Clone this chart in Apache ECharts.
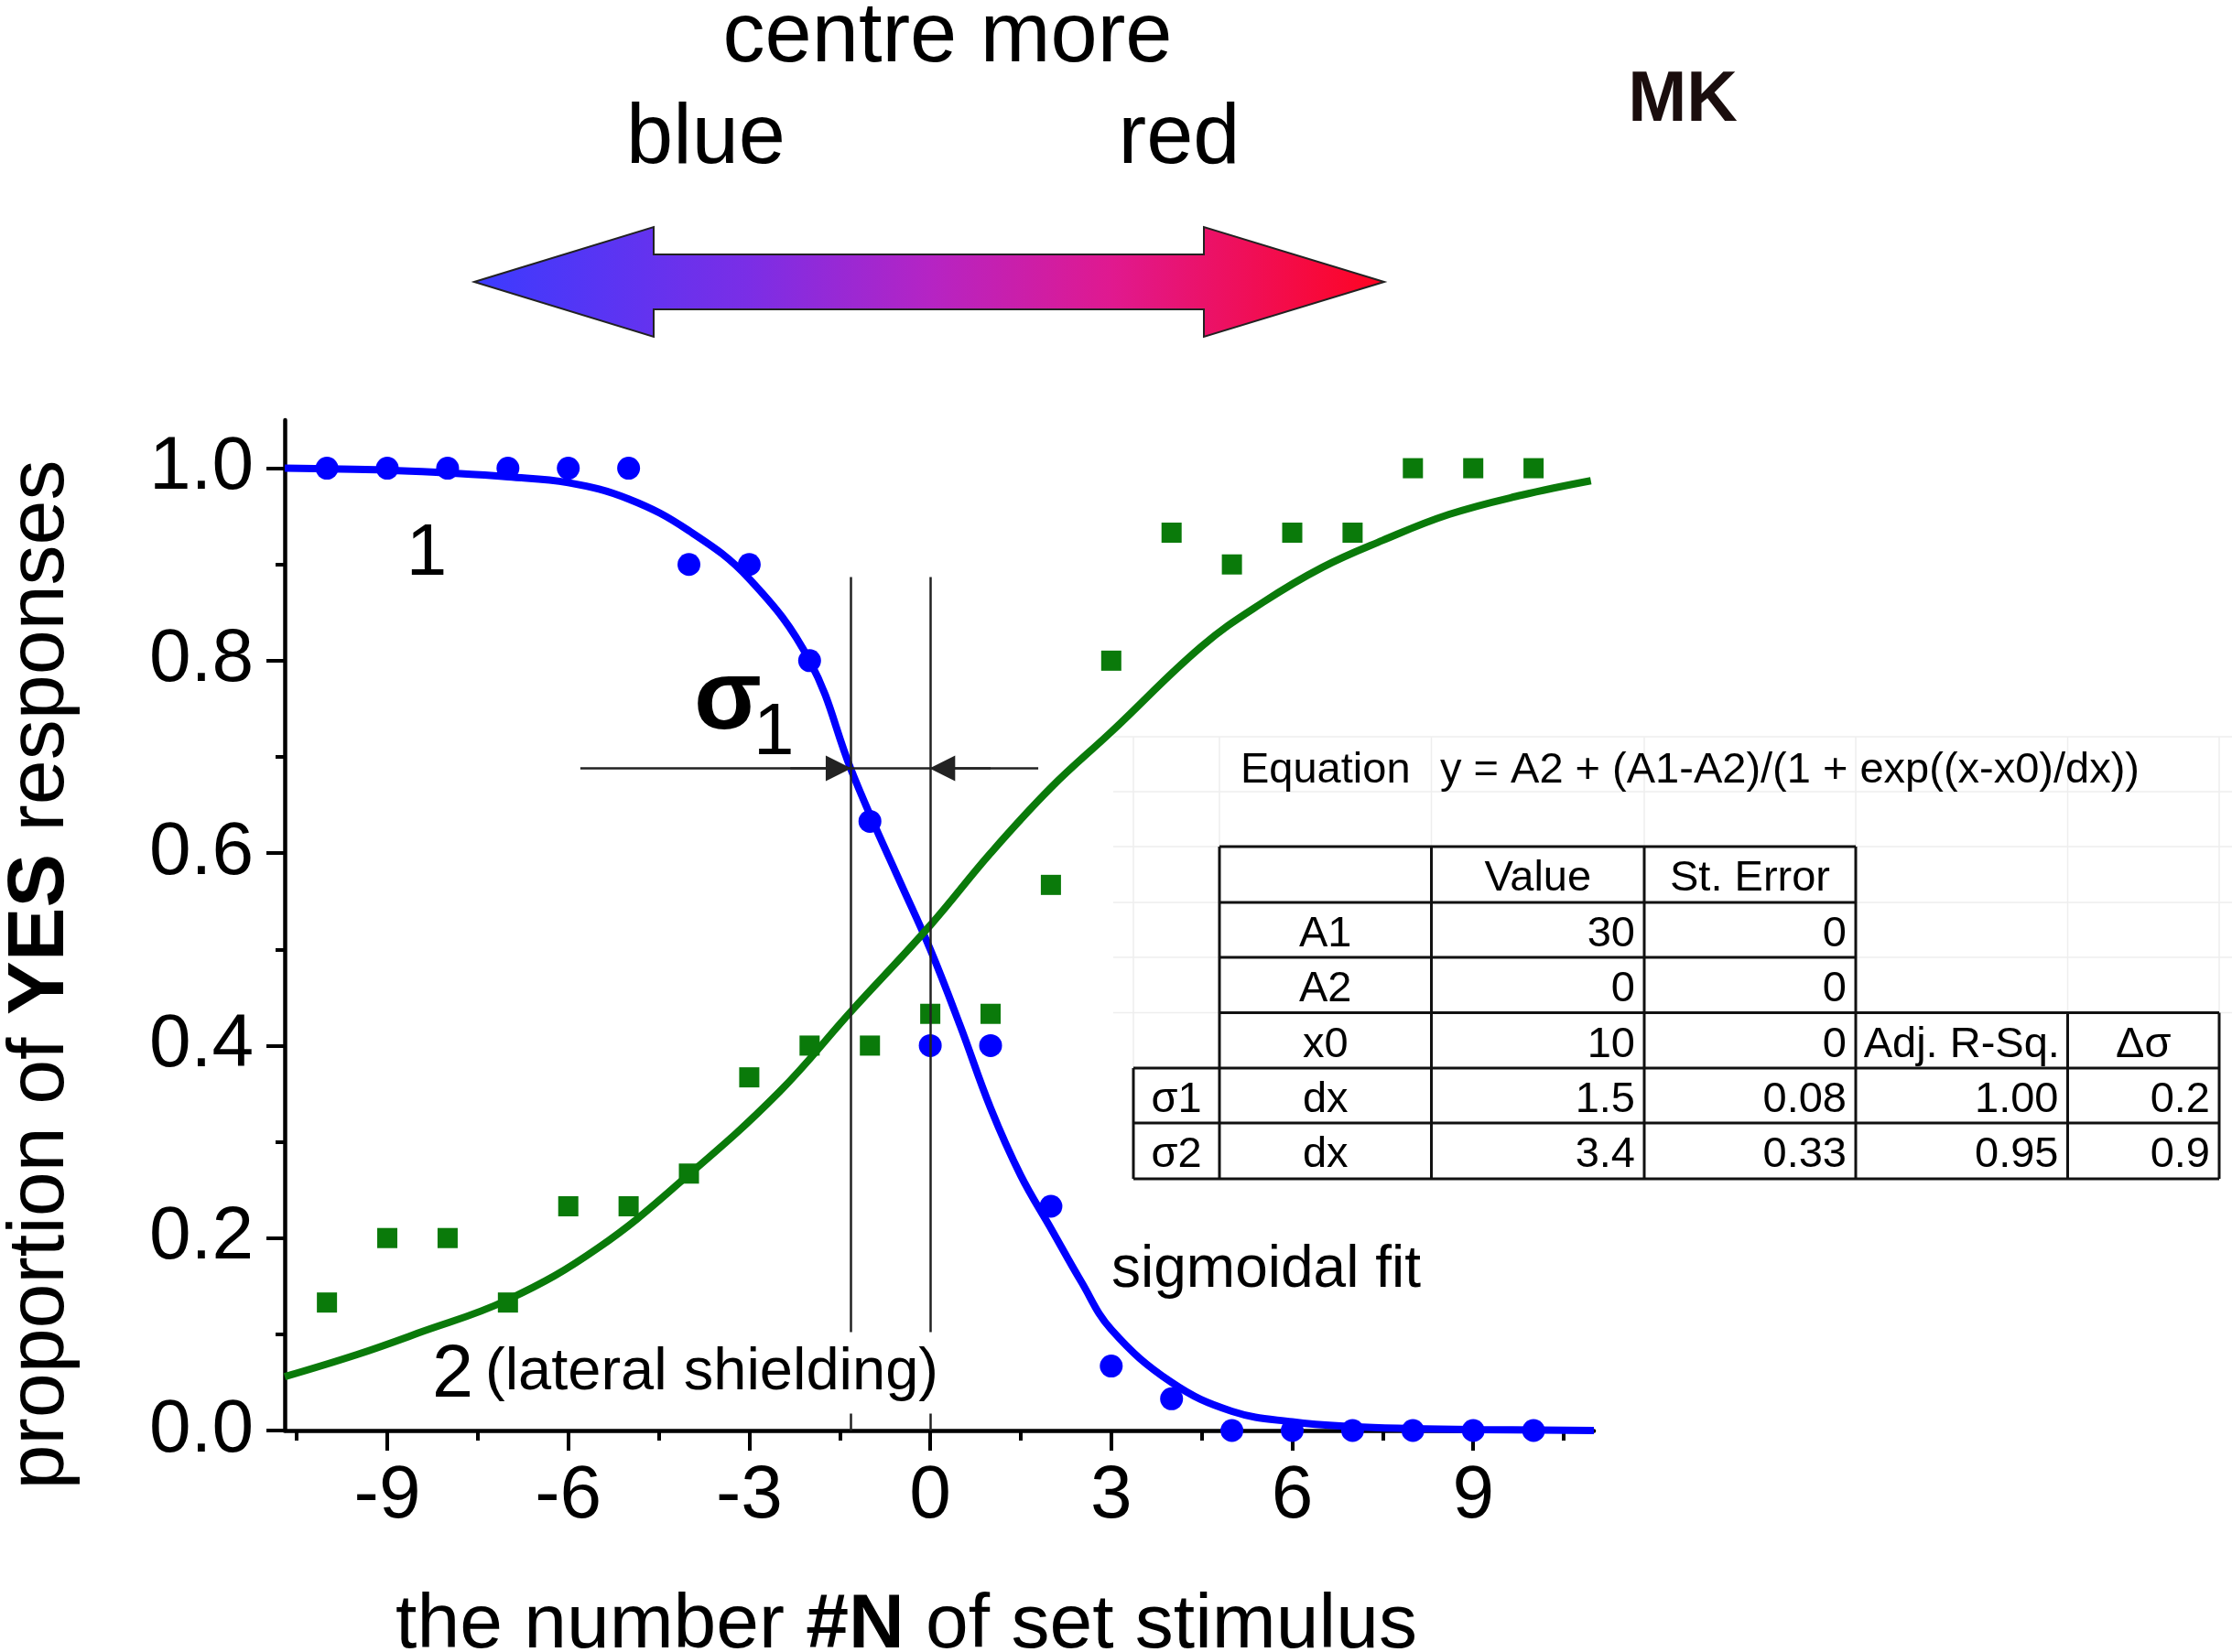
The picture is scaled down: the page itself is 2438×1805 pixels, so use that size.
<!DOCTYPE html>
<html>
<head>
<meta charset="utf-8">
<script src="https://cdn.jsdelivr.net/npm/echarts@6/dist/echarts.min.js"></script>
<style>
html,body{margin:0;padding:0;background:#fff;}
#chart{width:2438px;height:1805px;}
</style>
</head>
<body>
<div id="chart"></div>
<script>
// ---------------- data ----------------
const stimulus = [-10,-9,-8,-7,-6,-5,-4,-3,-2,-1,0,1,2,3,4,5,6,7,8,9,10];
const blueYes  = [1,1,1,1,1,1,0.9,0.9,0.8,0.633,0.4,0.4,0.233,0.067,0.033,0,0,0,0,0,0];
const greenYes = [0.133,0.2,0.2,0.133,0.233,0.233,0.267,0.367,0.4,0.4,0.433,0.433,0.567,0.8,0.933,0.9,0.933,0.933,1,1,1];

const blueFitX = [-10.7,-9,-8,-7,-6,-5,-4,-3,-2,-1.32,-1,-0.5,0,0.5,1,1.5,2,2.5,3,4,5,6,7,8,9,11];
const blueFitY = [1.0,0.998,0.995,0.991,0.985,0.968,0.935,0.885,0.80,0.688,0.64,0.57,0.50,0.42,0.335,0.265,0.21,0.155,0.105,0.05,0.02,0.009,0.004,0.002,0.001,0.0];
const greenFitX = [-10.7,-9.5,-8.5,-7,-5.5,-4,-2.5,-1.32,0,1,2,3,4.5,5.5,6.5,7.5,8.6,9.8,10.95];
const greenFitY = [0.056,0.079,0.101,0.136,0.19,0.266,0.352,0.435,0.525,0.60,0.668,0.726,0.815,0.86,0.897,0.925,0.952,0.972,0.987];

const xMajorTicks = [-9,-6,-3,0,3,6,9];
const xMinorTicks = [-10.5,-7.5,-4.5,-1.5,1.5,4.5,7.5,10.5];
const yMajorTicks = [0,0.2,0.4,0.6,0.8,1.0];
const yMinorTicks = [0.1,0.3,0.5,0.7,0.9];

// annotation (sigma-1 width markers) in data units
const sigmaLinesX = [-1.32, 0];
const sigmaLineTop = 0.887;
const sigmaArrowY = 0.688;
const sigmaArrowFrom = [-5.8, 1.79];

// fit table
const tableHead = ['Value','St. Error'];
const paramNames = ['A1','A2','x0'];
const paramValues = ['30','0','10'];
const paramErrors = ['0','0','0'];
const sigmaNames = ['\u03c31','\u03c32'];
const sigmaDx = ['1.5','3.4'];
const sigmaErr = ['0.08','0.33'];
const adjRSq = ['1.00','0.95'];
const deltaSigma = ['0.2','0.9'];

// ---------------- chart ----------------
const F = "'Liberation Sans', Arial, Helvetica, sans-serif";
const chart = echarts.init(document.getElementById('chart'));
const DY = 6;

function T(x, y, text, size, extra) {
  const st = Object.assign({text: text, fontSize: size, fontFamily: F, fill: '#000', align: 'left', verticalAlign: 'middle'}, extra || {});
  return {type: 'text', x: x, y: y + DY, z: 100, style: st};
}

const graphics = [];
// gradient double arrow
graphics.push({
  type: 'polygon', z: 50,
  shape: {points: [[518,308],[714,248],[714,278],[1315,278],[1315,248],[1512,308],[1315,368],[1315,338],[714,338],[714,368]]},
  style: {
    fill: {type: 'linear', x: 0, y: 0, x2: 1, y2: 0, colorStops: [
      {offset: 0, color: '#3b3bff'}, {offset: 0.3, color: '#7a2ee6'},
      {offset: 0.5, color: '#b524c4'}, {offset: 0.7, color: '#e0198f'},
      {offset: 1, color: '#ff0420'}]},
    stroke: '#222', lineWidth: 2
  }
});
graphics.push(T(1035, 36, 'centre more', 92, {align: 'center'}));
graphics.push(T(771, 147, 'blue', 92, {align: 'center'}));
graphics.push(T(1288, 147, 'red', 92, {align: 'center'}));
graphics.push(T(1838, 105, 'MK', 77, {align: 'center', fontWeight: 'bold', fill: '#1a0d0d'}));
graphics.push(T(466, 600, '1', 80, {align: 'center'}));
graphics.push(T(758, 760, '\u03c3', 108, {fontWeight: 'bold'}));
graphics.push(T(823, 796, '1', 80));
graphics.push(T(1214, 1382, 'sigmoidal fit', 64));
graphics.push(T(472, 1498, '2', 81));
graphics.push(T(527, 1494, '(lateral shielding)', 65, {backgroundColor: '#fff', padding: [12, 3, 12, 3]}));
// axis titles
graphics.push({type: 'text', x: 990, y: 1777, z: 100, style: {
  text: '{a|the number }{b|#N}{a| of set stimulus}', align: 'center', verticalAlign: 'middle',
  rich: {a: {fontSize: 84, fontFamily: F, fill: '#000'}, b: {fontSize: 84, fontFamily: F, fontWeight: 'bold', fill: '#000'}}
}});
graphics.push({type: 'text', x: 45, y: 1065, rotation: Math.PI / 2, z: 100, style: {
  text: '{a|proportion of }{b|YES}{a| responses}', align: 'center', verticalAlign: 'middle',
  rich: {a: {fontSize: 88, fontFamily: F, fill: '#000'}, b: {fontSize: 88, fontFamily: F, fontWeight: 'bold', fill: '#000'}}
}});

// table geometry
const colX = [1238, 1332, 1563.5, 1796, 2027, 2258.5, 2424];
const rowY = [925, 986, 1046, 1106.5, 1167, 1227, 1288];
function L(x1, y1, x2, y2, c, w) {
  return {type: 'line', z: 60, shape: {x1: x1, y1: y1, x2: x2, y2: y2}, style: {stroke: c, lineWidth: w}};
}
// faint spreadsheet grid
[805, 865, 925, 986, 1046, 1106.5].forEach(y => graphics.push(L(1216, y, 2438, y, '#eeeeee', 1.5)));
colX.forEach(x => graphics.push(L(x, 805, x, 1288, '#eeeeee', 1.5)));
// table borders
const TB = '#111', TW = 3;
[0,1,2].forEach(i => graphics.push(L(colX[1], rowY[i], colX[4], rowY[i], TB, TW)));
graphics.push(L(colX[1], rowY[3], colX[6], rowY[3], TB, TW));
[4,5,6].forEach(i => graphics.push(L(colX[0], rowY[i], colX[6], rowY[i], TB, TW)));
graphics.push(L(colX[0], rowY[4], colX[0], rowY[6], TB, TW));
[1,2,3,4].forEach(i => graphics.push(L(colX[i], rowY[0], colX[i], rowY[6], TB, TW)));
[5,6].forEach(i => graphics.push(L(colX[i], rowY[3], colX[i], rowY[6], TB, TW)));

const TF = 47;
function cell(text, c, r, align) {
  const yc = (rowY[r] + rowY[r + 1]) / 2 - 1;
  if (align === 'right') return T(colX[c + 1] - 10, yc, text, TF, {align: 'right'});
  return T((colX[c] + colX[c + 1]) / 2, yc, text, TF, {align: 'center'});
}
graphics.push(T((colX[1] + colX[2]) / 2, 836, 'Equation', TF, {align: 'center'}));
graphics.push(T(1573, 836, 'y = A2 + (A1-A2)/(1 + exp((x-x0)/dx))', TF));
graphics.push(cell(tableHead[0], 2, 0, 'center'));
graphics.push(cell(tableHead[1], 3, 0, 'center'));
paramNames.forEach((n, i) => {
  graphics.push(cell(n, 1, i + 1, 'center'));
  graphics.push(cell(paramValues[i], 2, i + 1, 'right'));
  graphics.push(cell(paramErrors[i], 3, i + 1, 'right'));
});
graphics.push(cell('Adj. R-Sq.', 4, 3, 'center'));
graphics.push(cell('\u0394\u03c3', 5, 3, 'center'));
sigmaNames.forEach((n, i) => {
  graphics.push(cell(n, 0, i + 4, 'center'));
  graphics.push(cell('dx', 1, i + 4, 'center'));
  graphics.push(cell(sigmaDx[i], 2, i + 4, 'right'));
  graphics.push(cell(sigmaErr[i], 3, i + 4, 'right'));
  graphics.push(cell(adjRSq[i], 4, i + 4, 'right'));
  graphics.push(cell(deltaSigma[i], 5, i + 4, 'right'));
});

const axisCommon = {
  type: 'value', splitLine: {show: false}, axisLine: {show: true, onZero: false, lineStyle: {color: '#000', width: 4.5}}
};
const blueC = '#0000ff', greenC = '#0a7a0a';
const annotLine = {color: '#222', width: 2.5, type: 'solid'};

chart.setOption({
  animation: false,
  backgroundColor: '#fff',
  grid: {left: 311, right: 697, top: 459, bottom: 242, containLabel: false},
  xAxis: [
    Object.assign({}, axisCommon, {
      min: -10.7, max: 11, position: 'bottom',
      axisTick: {show: true, inside: false, length: 22, customValues: xMajorTicks, lineStyle: {color: '#000', width: 4}},
      axisLabel: {show: true, customValues: xMajorTicks, margin: 31, fontSize: 82, fontFamily: F, color: '#000', formatter: v => String(v)}
    }),
    {type: 'value', min: -10.7, max: 11, position: 'bottom', splitLine: {show: false},
      axisLine: {show: false, onZero: false}, axisLabel: {show: false},
      axisTick: {show: true, inside: false, length: 11, customValues: xMinorTicks, lineStyle: {color: '#000', width: 4}}}
  ],
  yAxis: [
    Object.assign({}, axisCommon, {
      min: 0, max: 1.05, position: 'left',
      axisTick: {show: true, inside: false, length: 20, customValues: yMajorTicks, lineStyle: {color: '#000', width: 4}},
      axisLabel: {show: true, customValues: yMajorTicks, margin: 34, fontSize: 82, fontFamily: F, color: '#000', formatter: v => v.toFixed(1)}
    }),
    {type: 'value', min: 0, max: 1.05, position: 'left', splitLine: {show: false},
      axisLine: {show: false, onZero: false}, axisLabel: {show: false},
      axisTick: {show: true, inside: false, length: 10, customValues: yMinorTicks, lineStyle: {color: '#000', width: 4}}}
  ],
  series: [
    {
      name: 'annotations', type: 'line', data: [], z: 1, silent: true,
      markLine: {
        silent: true, animation: false, symbol: ['none', 'none'], label: {show: false},
        lineStyle: annotLine, emphasis: {disabled: true},
        data: [
          [{coord: [sigmaLinesX[0], 0]}, {coord: [sigmaLinesX[0], sigmaLineTop]}],
          [{coord: [sigmaLinesX[1], 0]}, {coord: [sigmaLinesX[1], sigmaLineTop]}],
          [{coord: [sigmaArrowFrom[0], sigmaArrowY]}, {coord: [sigmaArrowFrom[1], sigmaArrowY]}],
          [{coord: [sigmaLinesX[0] - 1, sigmaArrowY], symbol: 'none'}, {coord: [sigmaLinesX[0] - 0.2, sigmaArrowY], symbol: 'triangle', symbolSize: [28, 28]}],
          [{coord: [sigmaLinesX[1] + 1, sigmaArrowY], symbol: 'none'}, {coord: [sigmaLinesX[1] + 0.2, sigmaArrowY], symbol: 'triangle', symbolSize: [28, 28]}]
        ]
      }
    },
    {
      name: 'fit 1', type: 'line', z: 2, smooth: 0.4, showSymbol: false, silent: true,
      data: blueFitX.map((x, i) => [x, blueFitY[i]]),
      lineStyle: {color: blueC, width: 8}
    },
    {
      name: 'fit 2', type: 'line', z: 2, smooth: 0.4, showSymbol: false, silent: true,
      data: greenFitX.map((x, i) => [x, greenFitY[i]]),
      lineStyle: {color: greenC, width: 8}
    },
    {
      name: 'centre (1)', type: 'scatter', z: 3, clip: true, symbol: 'circle', symbolSize: 25,
      data: stimulus.map((x, i) => [x, blueYes[i]]),
      itemStyle: {color: blueC, opacity: 1}
    },
    {
      name: 'lateral shielding (2)', type: 'scatter', z: 3, clip: true, symbol: 'rect', symbolSize: 22,
      data: stimulus.map((x, i) => [x, greenYes[i]]),
      itemStyle: {color: greenC, opacity: 1}
    }
  ],
  graphic: {elements: graphics}
});
</script>
</body>
</html>
